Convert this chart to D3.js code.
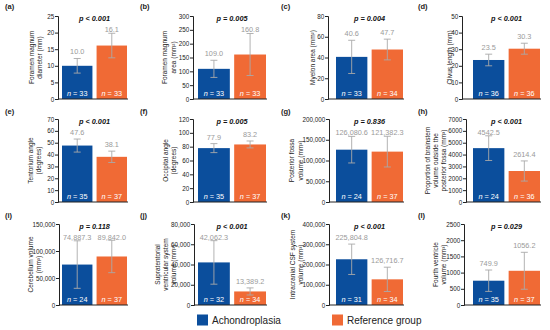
<!DOCTYPE html>
<html><head><meta charset="utf-8">
<script src="https://cdn.jsdelivr.net/npm/d3@7"></script>
<style>
html,body{margin:0;padding:0;background:#fff;}
svg{display:block;font-family:"Liberation Sans",Arial,sans-serif;}
</style></head>
<body><svg id="chart" width="550" height="330"></svg>
<script>
// ---------- data ----------
const groups = ["Achondroplasia", "Reference group"];
const panelLabels = ["(a)","(b)","(c)","(d)","(e)","(f)","(g)","(h)","(i)","(j)","(k)","(l)"];
const yTitles = [
  ["Foramen magnum","diameter (mm)"],
  ["Foramen magnum","area (mm²)"],
  ["Myelon area (mm²)"],
  ["Clivus length (mm)"],
  ["Tentorium angle","(degrees)"],
  ["Occipital angle","(degrees)"],
  ["Posterior fossa","volume (mm³)"],
  ["Proportion of brainstem","volume outside the","posterior fossa (mm³)"],
  ["Cerebellum volume","(mm³)"],
  ["Supratentorial","ventricular system","volume (mm³)"],
  ["Intracranial CSF system","volume (mm³)"],
  ["Fourth ventricle","volume (mm³)"]
];
const achonMeans = [10.0, 109.0, 40.6, 23.5, 47.6, 77.9, 126080.6, 4542.5, 74887.3, 42062.3, 225804.8, 749.9];
const refMeans   = [16.1, 160.8, 47.7, 30.3, 38.1, 83.2, 121382.3, 2614.4, 89842.0, 13389.2, 126716.7, 1056.2];
const achonSD    = [2.2, 31, 16, 3.5, 5.5, 6.5, 32000, 1040, 44000, 21500, 75000, 330];
const refSD      = [3.7, 76, 10, 3.3, 4.8, 5.0, 37000, 850, 30000, 3500, 60000, 570];
const achonN     = [33, 33, 33, 36, 35, 35, 24, 24, 24, 32, 31, 35];
const refN       = [33, 33, 34, 36, 37, 37, 37, 36, 37, 34, 34, 37];
const pValues    = ["p < 0.001","p = 0.005","p = 0.004","p < 0.001","p < 0.001","p = 0.005","p = 0.836","p < 0.001","p = 0.118","p < 0.001","p < 0.001","p = 0.029"];
const yMax       = [25, 300, 80, 50, 70, 120, 200000, 7000, 150000, 80000, 400000, 2500];
const yStep      = [5, 50, 20, 10, 10, 20, 50000, 1000, 50000, 20000, 100000, 500];
const useComma   = [false,false,false,false,false,false,true,false,true,true,true,false];

// ---------- layout ----------
const W = 550, H = 330;
const colors = {"Achondroplasia":"#0b4e9c","Reference group":"#f06a35"};
const rowTop = [16, 119, 224], rowBottom = [99, 202, 305];
const axisX = [58,193,328,462, 58,193,329,466, 59,194,329,464];
const colRange = [[62,127],[198,266],[336,403],[473,540]];
const titleX = [[32,40],[165,174],[313],[450],[31,39],[166,174],[292,301],[428,436,444],[31,39],[158,166,174],[293,301],[436,444]];
const labelX = [5,140,281,418], labelY = [9,114,218];

const svg = d3.select("#chart");
svg.append("rect").attr("width",W).attr("height",H).attr("fill","#fff");

for (let i = 0; i < 12; i++) {
  const r = Math.floor(i/4), c = i%4;
  const g = svg.append("g");
  const y = d3.scaleLinear().domain([0, yMax[i]]).range([rowBottom[r], rowTop[r]]);
  const x = d3.scaleBand().domain(groups).range(colRange[c]).paddingInner(0.12).paddingOuter(0);
  const tickVals = d3.range(0, yMax[i] + yStep[i]/2, yStep[i]);
  const fmt = useComma[i] ? d3.format(",") : d3.format("d");
  const vfmt = useComma[i] ? d3.format(",.1f") : d3.format(".1f");

  const rows = groups.map((gname, k) => ({
    g: gname,
    m: k === 0 ? achonMeans[i] : refMeans[i],
    sd: k === 0 ? achonSD[i] : refSD[i],
    n: k === 0 ? achonN[i] : refN[i]
  }));
  // bars
  g.selectAll("rect.bar").data(rows).join("rect")
    .attr("x", d => x(d.g)).attr("width", x.bandwidth())
    .attr("y", d => y(d.m)).attr("height", d => y(0) - y(d.m))
    .attr("fill", d => colors[d.g]);

  // error bars
  const cx = d => x(d.g) + x.bandwidth()/2;
  const eb = g.selectAll("g.eb").data(rows).join("g");
  eb.append("line")
    .attr("x1", cx).attr("x2", cx)
    .attr("y1", d => y(d.m + d.sd)).attr("y2", d => y(Math.max(d.m - d.sd, 0)))
    .attr("stroke", "#a9a9a9").attr("stroke-width", 0.9);
  ["top","bot"].forEach(w => {
    eb.append("line")
      .attr("x1", d => cx(d) - 3.5).attr("x2", d => cx(d) + 3.5)
      .attr("y1", d => y(w==="top" ? d.m + d.sd : Math.max(d.m - d.sd,0)))
      .attr("y2", d => y(w==="top" ? d.m + d.sd : Math.max(d.m - d.sd,0)))
      .attr("stroke", "#a9a9a9").attr("stroke-width", 0.9);
  });

  // value labels
  g.selectAll("text.val").data(rows).join("text")
    .attr("x", cx)
    .attr("y", d => Math.max(y(d.m + d.sd) - 4, rowTop[r] + 15.5))
    .attr("text-anchor", "middle").attr("font-size", 7.3).attr("fill", "#9a9a9a")
    .text(d => vfmt(d.m));

  // n labels
  const nt = g.selectAll("text.n").data(rows).join("text")
    .attr("x", cx)
    .attr("y", rowBottom[r] - 3)
    .attr("text-anchor", "middle").attr("font-size", 7.3).attr("fill", "#fff");
  nt.append("tspan").attr("font-style","italic").text("n");
  nt.append("tspan").text(d => " = " + d.n);

  // p value
  g.append("text")
    .attr("x", (colRange[c][0] + colRange[c][1]) / 2)
    .attr("y", rowTop[r] + 5)
    .attr("text-anchor", "middle").attr("font-size", 7.3)
    .attr("font-weight", "bold").attr("font-style", "italic").attr("fill", "#111")
    .text(pValues[i]);

  // y axis
  const ax = g.append("g").attr("transform", `translate(${axisX[i]},0)`)
    .call(d3.axisLeft(y).tickValues(tickVals).tickFormat(fmt).tickSize(3).tickPadding(0.8));
  ax.select(".domain").attr("stroke", "#222").attr("stroke-width", 1);
  ax.selectAll(".tick line").attr("stroke", "#222");
  ax.selectAll(".tick text").attr("font-size", 6.3).attr("fill", "#222").attr("font-family", "Liberation Sans, Arial, sans-serif");
  // baseline
  g.append("line").attr("x1", axisX[i]).attr("x2", colRange[c][1] + 1)
    .attr("y1", y(0)).attr("y2", y(0)).attr("stroke", "#222").attr("stroke-width", 1);

  // y title
  const cy = (rowTop[r] + rowBottom[r]) / 2;
  yTitles[i].forEach((line, k) => {
    g.append("text")
      .attr("transform", `translate(${titleX[i][k]},${cy}) rotate(-90)`)
      .attr("dy", "0.35em")
      .attr("text-anchor", "middle").attr("font-size", 6.5).attr("fill", "#222")
      .text(line);
  });

  // panel label
  g.append("text").attr("x", labelX[c]).attr("y", labelY[r])
    .attr("font-size", 7.5).attr("font-weight", "bold").attr("fill", "#222")
    .text(panelLabels[i]);
}

// legend
const legX = [197, 332];
groups.forEach((gname, k) => {
  svg.append("rect").attr("x", legX[k]).attr("y", 314.5).attr("width", 11).attr("height", 11).attr("fill", colors[gname]);
  svg.append("text").attr("x", legX[k] + 15).attr("y", 323.5).attr("font-size", 10).attr("fill", "#222").text(gname);
});
</script>
</body></html>
